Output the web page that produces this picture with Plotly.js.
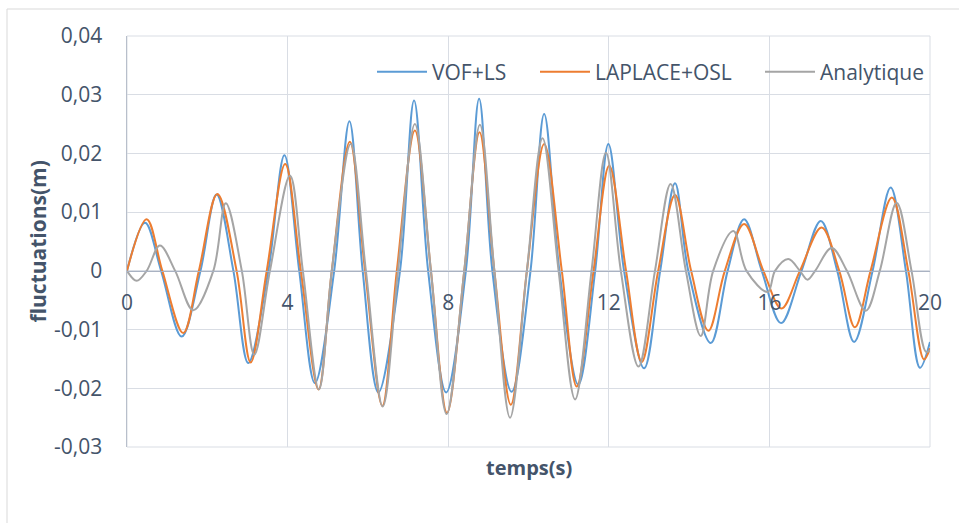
<!DOCTYPE html>
<html>
<head>
<meta charset="utf-8">
<script src="https://cdn.plot.ly/plotly-3.0.1.min.js"></script>
<style>
html,body{margin:0;padding:0;background:#fff;}
#chart{width:959px;height:523px;}
</style>
</head>
<body>
<div id="chart"></div>
<script>
// VOF+LS (blue)
var vofT = [0,0.45,0.85,1.36,1.83,2.23,2.65,3.02,3.52,3.92,4.29,4.68,5.16,5.54,5.87,6.26,6.80,7.15,7.50,7.95,8.44,8.77,9.10,9.58,10.05,10.39,10.77,11.24,11.66,11.99,12.38,12.88,13.28,13.65,13.98,14.54,14.96,15.37,15.81,16.29,16.80,17.28,17.69,18.11,18.57,19.02,19.40,19.75,20];
var vofY = [0,0.0082,0,-0.0112,0,0.0130,0,-0.0157,0,0.0197,0,-0.0191,0,0.0255,0,-0.0207,0,0.0290,0,-0.0207,0,0.0293,0,-0.0206,0,0.0267,0,-0.0194,0,0.0216,0,-0.0166,0,0.0149,0,-0.0123,0,0.0088,0,-0.0089,0,0.0085,0,-0.0121,0,0.0142,0,-0.0165,-0.0121];
// LAPLACE+OSL (orange)
var lapT = [0,0.49,0.88,1.40,1.79,2.25,2.73,3.08,3.48,3.94,4.33,4.77,5.10,5.55,5.93,6.36,6.72,7.17,7.57,7.97,8.40,8.78,9.15,9.56,9.96,10.39,10.83,11.20,11.62,12.01,12.43,12.82,13.23,13.65,14.05,14.48,14.89,15.37,15.85,16.30,16.76,17.30,17.74,18.13,18.52,19.05,19.46,19.85,20];
var lapY = [0,0.0088,0,-0.0106,0,0.0131,0,-0.0156,0,0.0182,0,-0.0202,0,0.0220,0,-0.0230,0,0.0239,0,-0.0242,0,0.0236,0,-0.0228,0,0.0216,0,-0.0197,0,0.0179,0,-0.0155,0,0.0129,0,-0.0102,0,0.0080,0,-0.0064,0,0.0074,0,-0.0096,0,0.0125,0,-0.0151,-0.0132];
// Analytique (gray)
var anaT = [0,0.24,0.49,0.82,1.20,1.65,2.15,2.46,2.86,3.17,3.56,4.06,4.38,4.78,5.10,5.57,5.95,6.37,6.75,7.17,7.57,7.96,8.40,8.79,9.15,9.54,9.96,10.35,10.75,11.16,11.57,11.93,12.30,12.74,13.15,13.54,13.92,14.29,14.60,15.10,15.43,15.96,16.14,16.47,16.76,16.95,17.14,17.55,17.93,18.40,18.75,19.17,19.54,19.90,20];
var anaY = [0,-0.0017,0,0.0043,0,-0.0067,0,0.0115,0,-0.0143,0,0.0162,0,-0.0202,0,0.0216,0,-0.0231,0,0.0250,0,-0.0244,0,0.0249,0,-0.0250,0,0.0226,0,-0.0219,0,0.0201,0,-0.0163,0,0.0148,0,-0.0111,0,0.0068,0,-0.0036,0,0.0020,0,-0.0015,0,0.0039,0,-0.0068,0,0.0116,0,-0.0138,-0.0135];

var seriesNames = ['VOF+LS','LAPLACE+OSL','Analytique'];
var xTicks = [0,4,8,12,16,20];
var yTickVals = [-0.03,-0.02,-0.01,0,0.01,0.02,0.03,0.04];
var yTickText = ['-0,03','-0,02','-0,01','0','0,01','0,02','0,03','0,04'];
var xTitle = 'temps(s)';
var yTitle = 'fluctuations(m)';

var FONT = 'Open Sans, Noto Sans, sans-serif';
var TXT = '#44546a';
var FS = 21;

function tr(t, y, name, color, leg){
  return {x:t, y:y, name:name, type:'scatter', mode:'lines', legend:leg,
    line:{color:color, width:2, shape:'spline', smoothing:1}, hoverinfo:'skip'};
}
var data = [
  tr(vofT, vofY, seriesNames[0], '#5b9bd5', 'legend'),
  tr(lapT, lapY, seriesNames[1], '#ed7d31', 'legend2'),
  tr(anaT, anaY, seriesNames[2], '#a5a5a5', 'legend3')
];

var L=127, R=930, T=36, B=447, W=959, H=523;
var pw=R-L, ph=B-T;
function leg(px){
  return {orientation:'h', x:(px-L)/pw, xanchor:'left', y:(B-72)/ph, yanchor:'middle',
    bgcolor:'rgba(0,0,0,0)', borderwidth:0, font:{family:FONT, size:FS, color:TXT},
    itemwidth:50};
}
var layout = {
  width:W, height:H,
  margin:{l:L, r:W-R, t:T, b:H-B, pad:0},
  paper_bgcolor:'#fff', plot_bgcolor:'#fff',
  separators:', ',
  font:{family:FONT, size:FS, color:TXT},
  showlegend:true,
  legend:leg(372),
  legend2:leg(535),
  legend3:leg(760),
  xaxis:{range:[0,20], tickvals:xTicks, ticktext:xTicks.map(String),
    anchor:'free', position:3/7,
    showgrid:true, gridcolor:'#d9dde4', gridwidth:1,
    showline:true, linecolor:'#a9b2c2', linewidth:1.5,
    zeroline:false, ticks:'outside', ticklen:12, tickcolor:'rgba(0,0,0,0)',
    tickfont:{family:FONT, size:FS, color:TXT}, fixedrange:true},
  yaxis:{range:[-0.03,0.04], tickvals:yTickVals, ticktext:yTickText,
    showgrid:true, gridcolor:'#d9dde4', gridwidth:1,
    showline:true, linecolor:'#b8bfcb', linewidth:1.5,
    zeroline:false, ticks:'outside', ticklen:19, tickcolor:'rgba(0,0,0,0)',
    tickfont:{family:FONT, size:FS, color:TXT}, fixedrange:true},
  annotations:[
    {text:'<b>'+xTitle+'</b>', xref:'paper', yref:'paper', x:0.5, y:(B-467)/ph,
     xanchor:'center', yanchor:'middle', showarrow:false,
     font:{family:FONT, size:FS-1, color:TXT}},
    {text:'<b>'+yTitle+'</b>', xref:'paper', yref:'paper', x:(37-L)/pw, y:0.5,
     xanchor:'center', yanchor:'middle', showarrow:false, textangle:-90,
     font:{family:FONT, size:FS, color:TXT}}
  ],
  shapes:[
    {type:'rect', xref:'paper', yref:'paper', x0:(7-L)/pw, x1:(980-L)/pw,
     y0:(B-540)/ph, y1:(B-9)/ph, line:{color:'#d9d9d9', width:1}, layer:'below'},
    {type:'rect', xref:'paper', yref:'paper', x0:0, x1:1, y0:0, y1:1,
     line:{color:'#d9dde4', width:1}, layer:'below'}
  ]
};
Plotly.newPlot('chart', data, layout, {displayModeBar:false, staticPlot:true});
</script>
</body>
</html>
